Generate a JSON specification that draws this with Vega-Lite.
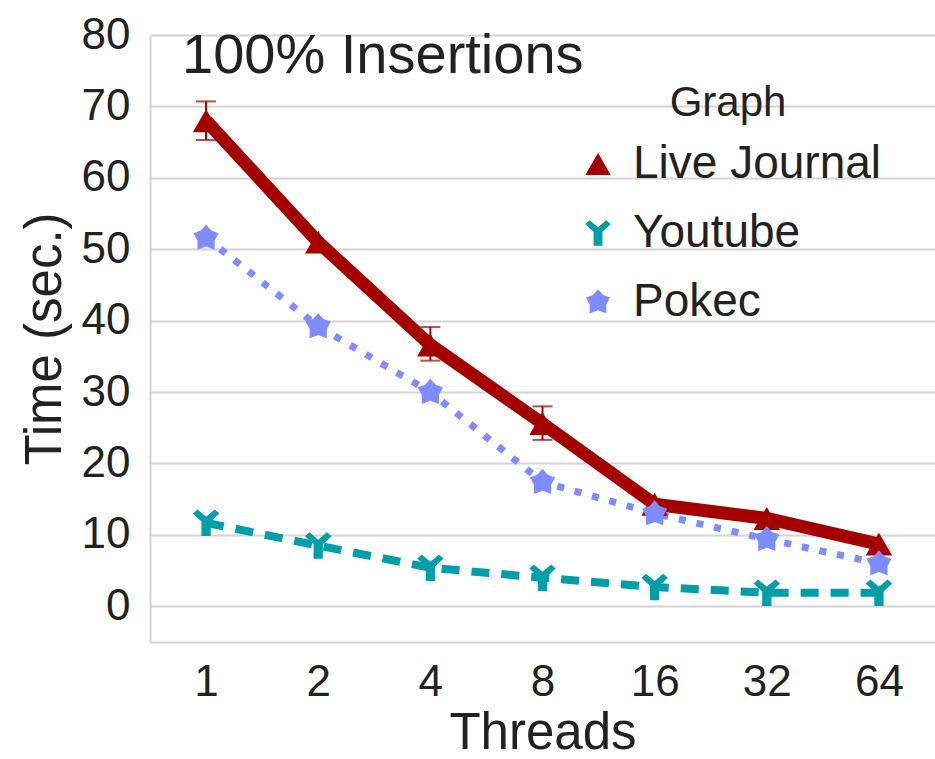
{
  "$schema": "https://vega.github.io/schema/vega-lite/v6.json",
  "autosize": {"type": "none"},
  "padding": {"left": 150, "top": 35, "right": 0, "bottom": 117},
  "width": 785,
  "height": 607,
  "background": "white",
  "title": {"text": "100% Insertions", "anchor": "start", "frame": "group", "orient": "top", "offset": -53, "dx": 32, "dy": 63, "baseline": "alphabetic", "fontSize": 56, "fontWeight": "normal", "font": "Liberation Sans", "color": "#222222"},
  "config": {
    "font": "Liberation Sans",
    "view": {"stroke": null},
    "axis": {"gridColor": "#d4d4d4", "gridWidth": 2, "domainColor": "#d4d4d4", "domainWidth": 2, "ticks": false, "labelColor": "#222222", "titleColor": "#222222", "labelFontSize": 44, "titleFontSize": 51, "titleFontWeight": "normal"},
    "legend": {"orient": "none", "legendX": 425, "legendY": 48, "titleFontSize": 42, "titleFontWeight": "normal", "titleColor": "#222222", "titleAnchor": "middle", "titleAlign": "center", "titlePadding": 16, "labelFontSize": 46, "labelColor": "#222222", "labelLimit": 500, "rowPadding": 23, "symbolSize": 650, "symbolStrokeWidth": 0, "labelOffset": 12}
  },
  "data": {"values": [
    {"graph": "Live Journal", "threads": "1", "time": 68.0, "lo": 65.3, "hi": 70.7},
    {"graph": "Live Journal", "threads": "2", "time": 51.0, "lo": null, "hi": null},
    {"graph": "Live Journal", "threads": "4", "time": 36.6, "lo": 34.4, "hi": 39.1},
    {"graph": "Live Journal", "threads": "8", "time": 25.6, "lo": 23.3, "hi": 28.0},
    {"graph": "Live Journal", "threads": "16", "time": 14.3, "lo": null, "hi": null},
    {"graph": "Live Journal", "threads": "32", "time": 12.3, "lo": null, "hi": null},
    {"graph": "Live Journal", "threads": "64", "time": 8.7, "lo": null, "hi": null},
    {"graph": "Youtube", "threads": "1", "time": 11.7, "lo": null, "hi": null},
    {"graph": "Youtube", "threads": "2", "time": 8.5, "lo": null, "hi": null},
    {"graph": "Youtube", "threads": "4", "time": 5.4, "lo": null, "hi": null},
    {"graph": "Youtube", "threads": "8", "time": 4.0, "lo": null, "hi": null},
    {"graph": "Youtube", "threads": "16", "time": 2.7, "lo": null, "hi": null},
    {"graph": "Youtube", "threads": "32", "time": 1.9, "lo": null, "hi": null},
    {"graph": "Youtube", "threads": "64", "time": 1.9, "lo": null, "hi": null},
    {"graph": "Pokec", "threads": "1", "time": 51.6, "lo": null, "hi": null},
    {"graph": "Pokec", "threads": "2", "time": 39.2, "lo": null, "hi": null},
    {"graph": "Pokec", "threads": "4", "time": 30.0, "lo": null, "hi": null},
    {"graph": "Pokec", "threads": "8", "time": 17.4, "lo": null, "hi": null},
    {"graph": "Pokec", "threads": "16", "time": 13.0, "lo": null, "hi": null},
    {"graph": "Pokec", "threads": "32", "time": 9.4, "lo": null, "hi": null},
    {"graph": "Pokec", "threads": "64", "time": 6.0, "lo": null, "hi": null}
  ]},
  "encoding": {
    "x": {"field": "threads", "type": "ordinal", "sort": ["1", "2", "4", "8", "16", "32", "64"], "scale": {"type": "point", "padding": 0.5},
      "axis": {"title": "Threads", "labelAngle": 0, "labelPadding": 18, "titlePadding": 4, "grid": false, "domain": true}},
    "y": {"field": "time", "type": "quantitative", "scale": {"domain": [-5, 80], "nice": false, "zero": false},
      "axis": {"title": "Time (sec.)", "values": [0, 10, 20, 30, 40, 50, 60, 70, 80], "labelPadding": 20, "titlePadding": 10, "grid": true, "domain": true}}
  },
  "layer": [
    {
      "transform": [{"filter": "datum.graph == 'Youtube'"}],
      "mark": {"type": "line", "color": "#009ea8", "strokeWidth": 8, "strokeDash": [18, 12]},
      "encoding": {}
    },
    {
      "transform": [{"filter": "datum.graph == 'Pokec'"}],
      "mark": {"type": "line", "color": "#7f8cff", "strokeWidth": 7, "strokeDash": [7, 11]},
      "encoding": {}
    },
    {
      "transform": [{"filter": "datum.graph == 'Live Journal'"}],
      "mark": {"type": "line", "color": "#a50000", "strokeWidth": 13},
      "encoding": {}
    },
    {
      "transform": [{"filter": "datum.lo != null"}],
      "mark": {"type": "errorbar", "ticks": {"size": 20, "color": "#a50000", "thickness": 2}, "rule": {"color": "#a50000", "strokeWidth": 2}},
      "encoding": {
        "y": {"field": "lo", "type": "quantitative"},
        "y2": {"field": "hi"}
      }
    },
    {
      "mark": {"type": "point", "filled": true, "opacity": 1, "size": 700, "strokeWidth": 0},
      "encoding": {
        "color": {"field": "graph", "type": "nominal", "scale": {"domain": ["Live Journal", "Youtube", "Pokec"], "range": ["#a50000", "#009ea8", "#7f8cff"]}, "legend": {"title": "Graph"}},
        "shape": {"field": "graph", "type": "nominal", "scale": {"domain": ["Live Journal", "Youtube", "Pokec"], "range": ["triangle-up", "M-1,-0.7L-0.65,-1L0,-0.45L0.65,-1L1,-0.7L0.35,-0.1L0.35,1L-0.35,1L-0.35,-0.1Z", "M0,-1L0.4,-0.55L0.95,-0.35L0.65,0.2L0.65,0.9L0,0.65L-0.65,0.9L-0.65,0.2L-0.95,-0.35L-0.4,-0.55Z"]}, "legend": {"title": "Graph"}}
      }
    }
  ]
}
